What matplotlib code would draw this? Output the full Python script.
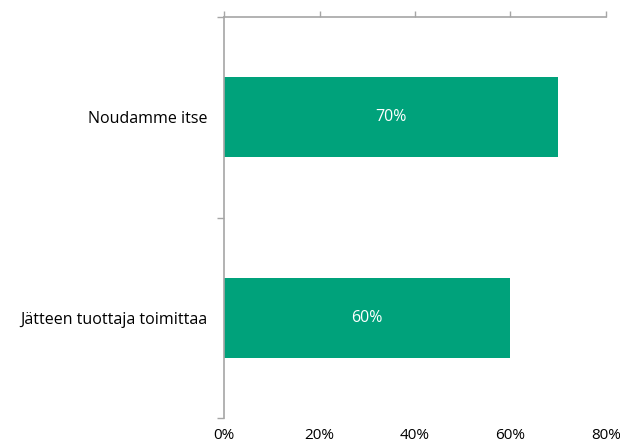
import matplotlib.pyplot as plt
import numpy as np

categories = ["Noudamme itse", "Jätteen tuottaja toimittaa"]
values = [0.70, 0.60]
xticks = [0, 0.2, 0.4, 0.6, 0.8]
xtick_labels = ["0%", "20%", "40%", "60%", "80%"]

bar_color = "#00A27B"
axis_color = "#A6A6A6"

plt.rcParams['font.family'] = ['Open Sans', 'DejaVu Sans']

fig = plt.figure(figsize=(6.2, 4.45), dpi=100)
ax = fig.add_axes([224 / 620, 1 - 418 / 445, (606 - 224) / 620, (418 - 17) / 445])

y = np.arange(len(categories))
bars = ax.barh(y, values, height=0.4, color=bar_color)
for b, v in zip(bars, values):
    ax.text(v / 2, b.get_y() + b.get_height() / 2, f"{v:.0%}",
            ha="center", va="center", color="white", fontsize=11.5)

ax.set_xlim(0, 0.8)
ax.set_ylim(len(categories) - 0.5, -0.5)

# x axis: line and ticks on top, labels at bottom
ax.set_xticks(xticks)
ax.set_xticklabels(xtick_labels)
ax.tick_params(axis="x", top=True, bottom=False, labeltop=False, labelbottom=True,
               direction="out", length=4, width=1, color=axis_color,
               labelsize=11, pad=3)

# y axis: ticks at category boundaries, labels at centers
ax.set_yticks([-0.5, 0.5, 1.5])
ax.set_yticklabels([])
ax.set_yticks(y, minor=True)
ax.set_yticklabels(categories, minor=True)
ax.tick_params(axis="y", which="major", direction="out", length=5, width=1, color=axis_color)
ax.tick_params(axis="y", which="minor", length=0, pad=12, labelsize=11.5)

for side in ["right", "bottom"]:
    ax.spines[side].set_visible(False)
for side in ["top", "left"]:
    ax.spines[side].set_color(axis_color)
    ax.spines[side].set_linewidth(1.2)

fig.savefig("out.png", dpi=100)
